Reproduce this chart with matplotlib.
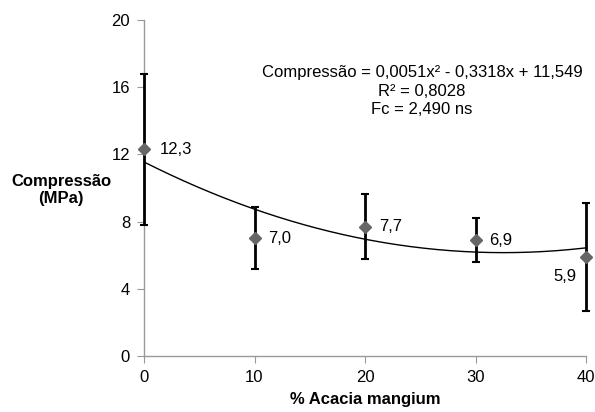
import matplotlib
matplotlib.use("Agg")
import matplotlib.pyplot as plt
import numpy as np

plt.rcParams['font.family'] = ['Liberation Sans', 'DejaVu Sans']

x_vals = [0, 10, 20, 30, 40]
y_vals = [12.3, 7.0, 7.7, 6.9, 5.9]
y_err = [4.5, 1.85, 1.95, 1.3, 3.2]
labels = ["12,3", "7,0", "7,7", "6,9", "5,9"]
coef = [0.0051, -0.3318, 11.549]
y_ticks = [0, 4, 8, 12, 16, 20]
x_ticks = [0, 10, 20, 30, 40]

fs = 12
fig = plt.figure(figsize=(5.95, 4.12), dpi=100)
ax = fig.add_axes([144/595, 56/412, 442/595, 336/412])

xs = np.linspace(0, 40, 200)
ax.plot(xs, np.polyval(coef, xs), color='black', lw=1.0, zorder=2)
ax.errorbar(x_vals, y_vals, yerr=y_err, fmt='none', ecolor='black', elinewidth=2.0,
            capsize=3, capthick=1.5, zorder=3, clip_on=False)
ax.plot(x_vals, y_vals, 'D', color='#666666', ms=6.5, zorder=4, clip_on=False)

offsets = [(11, 0, 'left', 'center'), (10, 0, 'left', 'center'), (10, 0, 'left', 'center'),
           (10, 0, 'left', 'center'), (-6.5, -14, 'right', 'center')]
for xv, yv, lab, (dx, dy, ha, va) in zip(x_vals, y_vals, labels, offsets):
    ax.annotate(lab, (xv, yv), xytext=(dx, dy), textcoords='offset points',
                ha=ha, va=va, fontsize=fs, zorder=5)

ax.set_xlim(0, 40)
ax.set_ylim(0, 20)
ax.set_xticks(x_ticks)
ax.set_yticks(y_ticks)
for s in ['top', 'right']:
    ax.spines[s].set_visible(False)
for s in ['left', 'bottom']:
    ax.spines[s].set_color('#999999')
    ax.spines[s].set_linewidth(1.0)
ax.tick_params(direction='out', length=5, color='#999999', labelsize=fs, pad=5)

ax.set_xlabel('% Acacia mangium', fontsize=fs, fontweight='bold', labelpad=5)
fig.text(61/595, 1 - 190/412, 'Compressão\n(MPa)', ha='center', va='center',
         fontsize=fs, fontweight='bold', linespacing=1.1)

ax.text(422/595, 1 - 91/412, 'Compressão = 0,0051x² - 0,3318x + 11,549\nR² = 0,8028\nFc = 2,490 ns',
        transform=fig.transFigure, ha='center', va='center', fontsize=fs, linespacing=1.25)

fig.savefig('out.png', dpi=100)
